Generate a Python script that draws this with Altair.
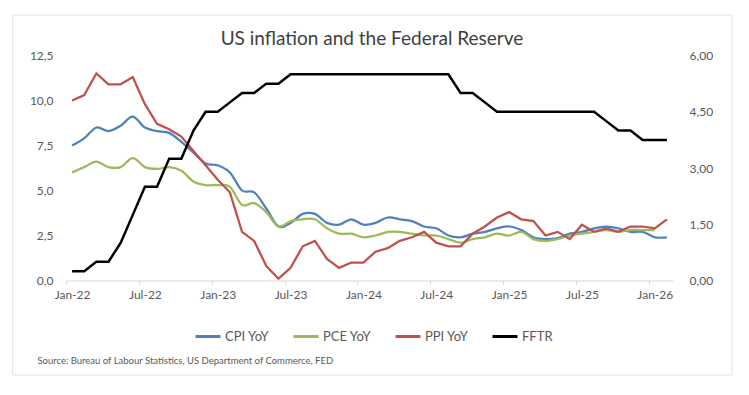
import json
import altair as alt
import pandas as pd

FONT = "Lato"

months = [
    "2022-01", "2022-02", "2022-03", "2022-04", "2022-05", "2022-06",
    "2022-07", "2022-08", "2022-09", "2022-10", "2022-11", "2022-12",
    "2023-01", "2023-02", "2023-03", "2023-04", "2023-05", "2023-06",
    "2023-07", "2023-08", "2023-09", "2023-10", "2023-11", "2023-12",
    "2024-01", "2024-02", "2024-03", "2024-04", "2024-05", "2024-06",
    "2024-07", "2024-08", "2024-09", "2024-10", "2024-11", "2024-12",
    "2025-01", "2025-02", "2025-03", "2025-04", "2025-05", "2025-06",
    "2025-07", "2025-08", "2025-09", "2025-10", "2025-11", "2025-12",
    "2026-01", "2026-02",
]

cpi = [7.5, 7.9, 8.5, 8.3, 8.6, 9.1, 8.5, 8.3, 8.2, 7.7, 7.1, 6.5,
       6.4, 6.0, 5.0, 4.9, 4.0, 3.0, 3.2, 3.7, 3.7, 3.2, 3.1, 3.4,
       3.1, 3.2, 3.5, 3.4, 3.3, 3.0, 2.9, 2.5, 2.4, 2.6, 2.7, 2.9,
       3.0, 2.8, 2.4, 2.3, 2.35, 2.6, 2.7, 2.9, 3.0, 2.9, 2.7, 2.7,
       2.4, 2.4]

pce = [6.0, 6.3, 6.6, 6.3, 6.3, 6.8, 6.3, 6.2, 6.3, 6.1, 5.5, 5.3,
       5.3, 5.2, 4.2, 4.3, 3.8, 3.0, 3.3, 3.4, 3.4, 2.9, 2.6, 2.6,
       2.4, 2.5, 2.7, 2.7, 2.6, 2.5, 2.5, 2.3, 2.1, 2.3, 2.4, 2.6,
       2.5, 2.7, 2.3, 2.2, 2.3, 2.5, 2.6, 2.7, 2.8, 2.7, 2.8, 2.8,
       2.8]

ppi = [10.0, 10.3, 11.5, 10.9, 10.9, 11.3, 9.8, 8.7, 8.4, 8.0, 7.2, 6.4,
       5.6, 4.9, 2.7, 2.2, 0.8, 0.1, 0.7, 1.9, 2.2, 1.2, 0.7, 1.0,
       1.0, 1.6, 1.8, 2.2, 2.4, 2.7, 2.1, 1.9, 1.9, 2.6, 3.0, 3.5,
       3.8, 3.4, 3.3, 2.5, 2.7, 2.3, 3.1, 2.7, 2.9, 2.7, 3.0, 3.0,
       2.9, 3.4]

fftr = [0.25, 0.25, 0.5, 0.5, 1.0, 1.75, 2.5, 2.5, 3.25, 3.25, 4.0, 4.5,
        4.5, 4.75, 5.0, 5.0, 5.25, 5.25, 5.5, 5.5, 5.5, 5.5, 5.5, 5.5,
        5.5, 5.5, 5.5, 5.5, 5.5, 5.5, 5.5, 5.5, 5.0, 5.0, 4.75, 4.5,
        4.5, 4.5, 4.5, 4.5, 4.5, 4.5, 4.5, 4.5, 4.25, 4.0, 4.0, 3.75,
        3.75, 3.75]

series_names = ["CPI YoY", "PCE YoY", "PPI YoY", "FFTR"]
series_colors = ["#4F81BD", "#9BBB59", "#C0504D", "#000000"]

x_tick_labels = ["Jan-22", "Jul-22", "Jan-23", "Jul-23", "Jan-24",
                 "Jul-24", "Jan-25", "Jul-25", "Jan-26"]
left_ticks = [0, 2.5, 5, 7.5, 10, 12.5]
right_ticks = [0, 1.5, 3, 4.5, 6]

title_text = "US inflation and the Federal Reserve"
source_text = "Source: Bureau of Labour Statistics, US Department of Commerce, FED"

rows = []
for name, vals in zip(series_names, [cpi, pce, ppi, fftr]):
    for i, v in enumerate(vals):
        rows.append({"idx": i, "month": months[i], "series": name, "value": v})
df = pd.DataFrame(rows)

n = len(months)
W, H = 607, 225
GRAY = "#595959"

# tick marks at category boundaries, labels at category centres
tick_vals = [-0.5 + 6 * k for k in range(len(x_tick_labels))]
label_expr = f"{json.dumps(x_tick_labels)}[round((datum.value + 0.5) / 6)]"
half_cat = W / n / 2

x_enc = alt.X(
    "idx:Q",
    scale=alt.Scale(domain=[-0.5, n - 0.5], nice=False, zero=False),
    axis=alt.Axis(
        values=tick_vals, labelExpr=label_expr, title=None, grid=False,
        domainColor="#d9d9d9", tickColor="#d9d9d9", tickSize=4,
        labelOffset=half_cat, labelPadding=5, labelFont=FONT, labelFontSize=12,
        labelColor=GRAY, labelOverlap=False, labelFlush=False,
    ),
)

color_enc = alt.Color(
    "series:N",
    scale=alt.Scale(domain=series_names, range=series_colors),
    sort=series_names,
    legend=alt.Legend(
        orient="none", legendX=128, legendY=267, direction="horizontal",
        title=None, symbolType="stroke", symbolSize=625, symbolStrokeWidth=3,
        labelFont=FONT, labelFontSize=13, labelColor=GRAY, labelOffset=3,
        columnPadding=17,
    ),
)

base = alt.Chart(df)

y_left = alt.Y(
    "value:Q",
    scale=alt.Scale(domain=[0, 12.5], nice=False),
    axis=alt.Axis(
        values=left_ticks, labelExpr="replace(format(datum.value, '.1f'), '.', ',')",
        title=None, grid=False, domain=False, ticks=False, labelPadding=13,
        labelFont=FONT, labelFontSize=12, labelColor=GRAY,
    ),
)

smooth = base.transform_filter(
    alt.FieldOneOfPredicate(field="series", oneOf=["CPI YoY", "PCE YoY"])
).mark_line(interpolate="cardinal", strokeWidth=2.25).encode(
    x=x_enc, y=y_left, color=color_enc, detail="series:N"
)

ppi_line = base.transform_filter(
    alt.FieldEqualPredicate(field="series", equal="PPI YoY")
).mark_line(strokeWidth=2.25).encode(x=x_enc, y=y_left, color=color_enc)

left = alt.layer(smooth, ppi_line)

right = base.transform_filter(
    alt.FieldEqualPredicate(field="series", equal="FFTR")
).mark_line(strokeWidth=2.5).encode(
    x=x_enc,
    y=alt.Y(
        "value:Q",
        scale=alt.Scale(domain=[0, 6], nice=False),
        axis=alt.Axis(
            orient="right", values=right_ticks,
            labelExpr="replace(format(datum.value, '.2f'), '.', ',')",
            title=None, grid=False, domain=False, ticks=False, labelPadding=16,
            labelFont=FONT, labelFontSize=12, labelColor=GRAY,
        ),
    ),
    color=color_enc,
)

one = alt.Chart(pd.DataFrame({"k": [0]}))

border = one.mark_rect(fillOpacity=0, stroke="#e3e3e3", strokeWidth=1).encode(
    x=alt.value(-53.3), x2=alt.value(666), y=alt.value(-40.5), y2=alt.value(319.5)
)

title = one.mark_text(
    text=title_text, font=FONT, fontSize=19, color="#404040",
    align="center", baseline="middle",
).encode(x=alt.value(306), y=alt.value(-16.5))

source = one.mark_text(
    text=source_text, font=FONT, fontSize=9.5, color=GRAY,
    align="left", baseline="middle",
).encode(x=alt.value(-28.6), y=alt.value(305.5))

chart = alt.layer(border, left, right, title, source).resolve_scale(
    y="independent"
).properties(
    width=W, height=H,
    autosize=alt.AutoSizeParams(type="none"),
    padding={"left": 58, "top": 47.5, "right": 68, "bottom": 106},
    background="white",
).configure_view(stroke=None)

chart.save("out.html", embed_options={"renderer": "svg", "actions": False})
